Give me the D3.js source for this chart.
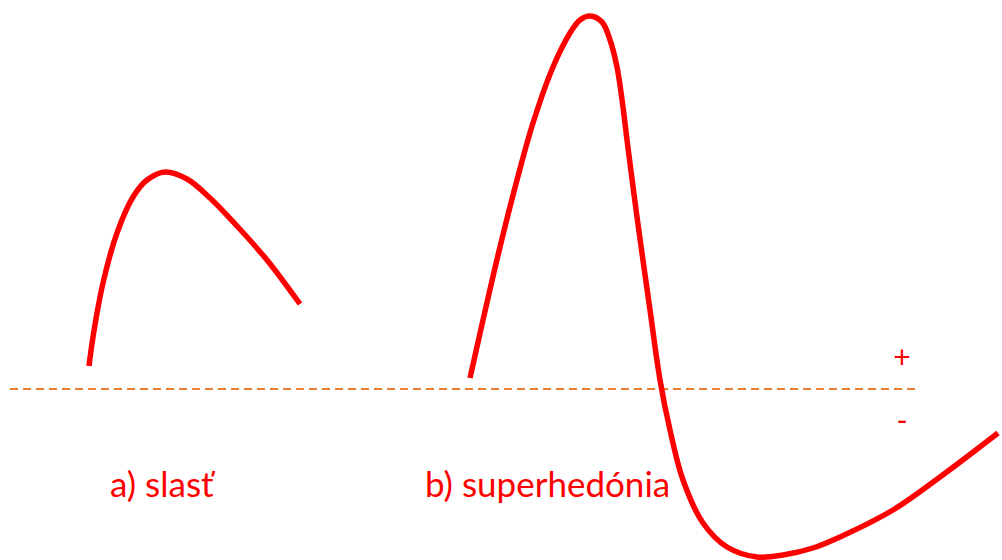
<!DOCTYPE html>
<html>
<head>
<meta charset="utf-8">
<script src="https://cdn.jsdelivr.net/npm/d3@7"></script>
<style>
  html, body { margin: 0; padding: 0; background: #fff; }
  svg { display: block; }
</style>
</head>
<body>
<div id="chart"></div>
<script>
// curve a) slasť
var slastX = [8.9, 9.3, 10.3, 11.7, 13.3, 14.7, 16.5, 18.7, 21.0, 23.7, 26.7, 30.0];
var slastY = [23, 52, 106, 156, 192, 209, 217, 210, 191, 163, 129, 85];

// curve b) superhedónia
var superX = [47.0, 48.3, 50.0, 51.7, 53.3, 55.3, 57.0, 58.0, 59.0, 60.2, 61.0, 61.7, 62.3, 62.7,
              63.7, 65.0, 66.0, 67.0, 68.3, 70.3, 72.7, 75.7, 78.3, 81.3, 84.0, 89.3, 94.0, 99.8];
var superY = [11, 69, 142, 209, 266, 322, 356, 369, 373, 367, 349, 322, 282, 249,
              172, 79, 9, -41, -91, -134, -158, -168, -166, -159, -148, -121, -88, -44];

var labels = ["a) slasť", "b) superhedónia"];
var labelX = [11.0, 42.5];
var signs = ["+", "-"];
var signY = [21, -42];
var baseX = [1.0, 91.9];

var W = 1002, H = 560;
var svg = d3.select("#chart").append("svg").attr("width", W).attr("height", H);

var x = d3.scaleLinear().domain([0, 100.2]).range([0, W]);
var y = d3.scaleLinear().domain([-171, 389]).range([H, 0]);

// zero line
svg.append("line")
  .attr("x1", x(baseX[0])).attr("x2", x(baseX[1]))
  .attr("y1", y(0)).attr("y2", y(0))
  .attr("stroke", "#ED7D31")
  .attr("stroke-width", 2)
  .attr("stroke-dasharray", "8,5");

var line = d3.line()
  .x(function(d){ return x(d[0]); })
  .y(function(d){ return y(d[1]); })
  .curve(d3.curveCatmullRom.alpha(0.5));

var series = [d3.zip(slastX, slastY), d3.zip(superX, superY)];

svg.selectAll("path.curve")
  .data(series)
  .enter()
  .append("path")
  .attr("class", "curve")
  .attr("d", line)
  .attr("fill", "none")
  .attr("stroke", "#FF0000")
  .attr("stroke-width", 5.5);

svg.selectAll("text.lbl")
  .data(labels)
  .enter()
  .append("text")
  .attr("class", "lbl")
  .attr("x", function(d, i){ return x(labelX[i]); })
  .attr("y", 497)
  .attr("fill", "#FF0000")
  .attr("font-family", "Lato, 'Open Sans', sans-serif")
  .attr("font-size", 35)
  .text(function(d){ return d; });

svg.selectAll("text.sign")
  .data(signs)
  .enter()
  .append("text")
  .attr("class", "sign")
  .attr("x", x(90.2))
  .attr("y", function(d, i){ return y(signY[i]); })
  .attr("text-anchor", "middle")
  .attr("fill", "#FF0000")
  .attr("font-family", "Lato, 'Open Sans', sans-serif")
  .attr("font-size", 30)
  .text(function(d){ return d; });
</script>
</body>
</html>
